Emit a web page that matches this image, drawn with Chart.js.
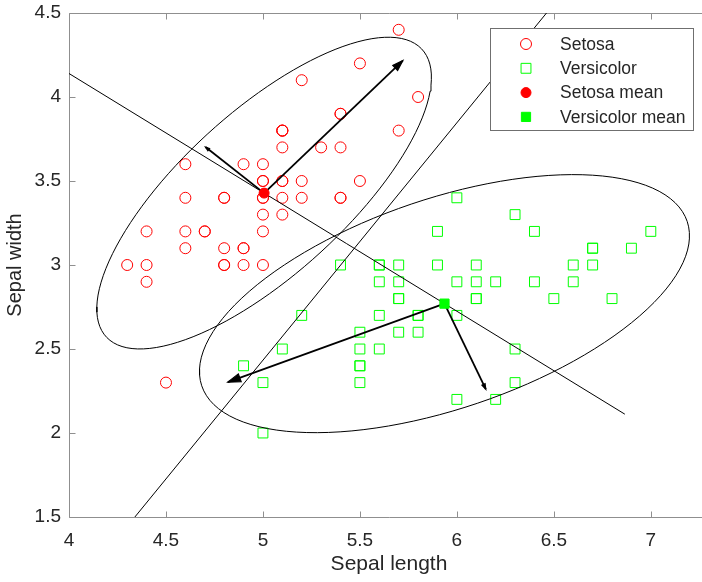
<!DOCTYPE html>
<html>
<head>
<meta charset="utf-8">
<title>Iris sepal measurements</title>
<script src="https://cdn.jsdelivr.net/npm/chart.js@4.4.1/dist/chart.umd.min.js"></script>
<style>
  html, body { margin: 0; padding: 0; background: #fff; overflow: hidden; }
  #wrap { position: relative; width: 702px; height: 582px; overflow: hidden; }
  #chartIris { position: absolute; left: 0; top: 0; width: 709px; height: 582px; }
</style>
</head>
<body>
<!-- the axes box runs a few pixels past the right edge of the page -->
<div id="wrap"><canvas id="chartIris" width="709" height="582"></canvas></div>
<script>
// Fisher iris, sepal length / width (cm)
const setosaLength = [5.1, 4.9, 4.7, 4.6, 5.0, 5.4, 4.6, 5.0, 4.4, 4.9, 5.4, 4.8, 4.8, 4.3, 5.8, 5.7, 5.4, 5.1, 5.7, 5.1,
                      5.4, 5.1, 4.6, 5.1, 4.8, 5.0, 5.0, 5.2, 5.2, 4.7, 4.8, 5.4, 5.2, 5.5, 4.9, 5.0, 5.5, 4.9, 4.4, 5.1,
                      5.0, 4.5, 4.4, 5.0, 5.1, 4.8, 5.1, 4.6, 5.3, 5.0];
const setosaWidth = [3.5, 3.0, 3.2, 3.1, 3.6, 3.9, 3.4, 3.4, 2.9, 3.1, 3.7, 3.4, 3.0, 3.0, 4.0, 4.4, 3.9, 3.5, 3.8, 3.8,
                     3.4, 3.7, 3.6, 3.3, 3.4, 3.0, 3.4, 3.5, 3.4, 3.2, 3.1, 3.4, 4.1, 4.2, 3.1, 3.2, 3.5, 3.6, 3.0, 3.4,
                     3.5, 2.3, 3.2, 3.5, 3.8, 3.0, 3.8, 3.2, 3.7, 3.3];
const versicolorLength = [7.0, 6.4, 6.9, 5.5, 6.5, 5.7, 6.3, 4.9, 6.6, 5.2, 5.0, 5.9, 6.0, 6.1, 5.6, 6.7, 5.6, 5.8, 6.2, 5.6,
                          5.9, 6.1, 6.3, 6.1, 6.4, 6.6, 6.8, 6.7, 6.0, 5.7, 5.5, 5.5, 5.8, 6.0, 5.4, 6.0, 6.7, 6.3, 5.6, 5.5,
                          5.5, 6.1, 5.8, 5.0, 5.6, 5.7, 5.7, 6.2, 5.1, 5.7];
const versicolorWidth = [3.2, 3.2, 3.1, 2.3, 2.8, 2.8, 3.3, 2.4, 2.9, 2.7, 2.0, 3.0, 2.2, 2.9, 2.9, 3.1, 3.0, 2.7, 2.2, 2.5,
                         3.2, 2.8, 2.5, 2.8, 2.9, 3.0, 2.8, 3.0, 2.9, 2.6, 2.4, 2.4, 2.7, 2.7, 3.0, 3.4, 3.1, 2.3, 3.0, 2.5,
                         2.6, 3.0, 2.6, 2.3, 2.7, 3.0, 2.9, 2.9, 2.5, 2.8];

const xTicks = [4, 4.5, 5, 5.5, 6, 6.5, 7];
const yTicks = [1.5, 2, 2.5, 3, 3.5, 4, 4.5];

const CHI2_95 = 5.991;       // chi-square, 2 dof, 95 %
const ARROW_SHRINK = 0.9;    // arrows a bit shorter than the ellipse axes

const RED = '#ff0000';
const GREEN = '#00ff00';
const TEXT = '#262626';
const AXIS = '#8f8f8f';
const FONT = "'Liberation Sans', Arial, Helvetica, sans-serif";

Chart.defaults.font.family = FONT;

// mean, covariance and principal axes of one class
function stats(xs, ys) {
    const n = xs.length;
    const mx = xs.reduce((a, b) => a + b, 0) / n;
    const my = ys.reduce((a, b) => a + b, 0) / n;
    let sxx = 0, syy = 0, sxy = 0;
    for (let i = 0; i < n; i++) {
        sxx += (xs[i] - mx) * (xs[i] - mx);
        syy += (ys[i] - my) * (ys[i] - my);
        sxy += (xs[i] - mx) * (ys[i] - my);
    }
    sxx /= n - 1; syy /= n - 1; sxy /= n - 1;
    const half = (sxx + syy) / 2;
    const root = Math.sqrt(half * half - (sxx * syy - sxy * sxy));
    const l1 = half + root, l2 = half - root;
    let vx = l1 - syy, vy = sxy;
    const len = Math.hypot(vx, vy);
    vx /= len; vy /= len;
    return { mx: mx, my: my, l1: l1, l2: l2, v1: [vx, vy], v2: [-vy, vx] };
}

function toPoints(xs, ys) {
    return xs.map((x, i) => ({ x: x, y: ys[i] }));
}

function ellipsePoints(s, k) {
    const pts = [];
    const a = k * Math.sqrt(s.l1), b = k * Math.sqrt(s.l2);
    for (let i = 0; i <= 120; i++) {
        const t = i / 120 * 2 * Math.PI;
        pts.push({
            x: s.mx + a * Math.cos(t) * s.v1[0] + b * Math.sin(t) * s.v2[0],
            y: s.my + a * Math.cos(t) * s.v1[1] + b * Math.sin(t) * s.v2[1]
        });
    }
    return pts;
}

// two arrows from the mean along the principal axes; sign picks the direction of the major one
function axisArrows(s, sign, k) {
    const m1 = [sign * s.v1[0], sign * s.v1[1]];
    const m2 = [-m1[1], m1[0]];
    const a = k * Math.sqrt(s.l1), b = k * Math.sqrt(s.l2);
    return [
        [{ x: s.mx, y: s.my }, { x: s.mx + a * m1[0], y: s.my + a * m1[1] }],
        [{ x: s.mx, y: s.my }, { x: s.mx + b * m2[0], y: s.my + b * m2[1] }]
    ];
}

const setosa = stats(setosaLength, setosaWidth);
const versicolor = stats(versicolorLength, versicolorWidth);

// line through both means, and its perpendicular through the midpoint
const dx = versicolor.mx - setosa.mx, dy = versicolor.my - setosa.my;
const midX = (setosa.mx + versicolor.mx) / 2, midY = (setosa.my + versicolor.my) / 2;
const meanLine = [{ x: setosa.mx - 2 * dx, y: setosa.my - 2 * dy }, { x: versicolor.mx + dx, y: versicolor.my + dy }];
const splitLine = [{ x: midX + 3 * dy, y: midY - 3 * dx }, { x: midX - 3 * dy, y: midY + 3 * dx }];

const eK = Math.sqrt(CHI2_95);
const arrows = axisArrows(setosa, 1, eK * ARROW_SHRINK).concat(axisArrows(versicolor, -1, eK * ARROW_SHRINK));

function curve(data, width) {
    return { data: data, showLine: true, pointRadius: 0, borderColor: '#000', borderWidth: width, order: 3 };
}

const datasets = [
    { label: 'Setosa', data: toPoints(setosaLength, setosaWidth), pointStyle: 'circle', pointRadius: 5.5,
      borderColor: RED, backgroundColor: 'rgba(0,0,0,0)', borderWidth: 1, order: 5 },
    { label: 'Versicolor', data: toPoints(versicolorLength, versicolorWidth), pointStyle: 'rect', pointRadius: 7,
      borderColor: GREEN, backgroundColor: 'rgba(0,0,0,0)', borderWidth: 1, order: 5 },
    { label: 'Setosa mean', data: [{ x: setosa.mx, y: setosa.my }], pointStyle: 'circle', pointRadius: 5,
      borderColor: RED, backgroundColor: RED, borderWidth: 1, order: 0 },
    { label: 'Versicolor mean', data: [{ x: versicolor.mx, y: versicolor.my }], pointStyle: 'rect', pointRadius: 6.5,
      borderColor: GREEN, backgroundColor: GREEN, borderWidth: 1, order: 0 },
    curve(ellipsePoints(setosa, eK), 1),
    curve(ellipsePoints(versicolor, eK), 1),
    curve(meanLine, 1),
    curve(splitLine, 1)
];
arrows.forEach(a => {
    const ds = curve(a, 1.8);
    ds.arrow = true;
    ds.order = 1;
    datasets.push(ds);
});

// left, top and bottom axis lines with inward tick marks (the right side is off the page)
const axesFrame = {
    id: 'axesFrame',
    beforeDatasetsDraw(chart) {
        const { ctx, chartArea: area, scales } = chart;
        const L = Math.round(area.left) + 0.5, R = Math.round(area.right);
        const T = Math.round(area.top) + 0.5, B = Math.round(area.bottom) + 0.5;
        ctx.save();
        ctx.strokeStyle = AXIS;
        ctx.lineWidth = 1;
        ctx.beginPath();
        ctx.moveTo(R, T); ctx.lineTo(L, T); ctx.lineTo(L, B); ctx.lineTo(R, B);
        xTicks.forEach(v => {
            const px = Math.round(scales.x.getPixelForValue(v)) + 0.5;
            ctx.moveTo(px, B); ctx.lineTo(px, B - 6);
            ctx.moveTo(px, T); ctx.lineTo(px, T + 6);
        });
        yTicks.forEach(v => {
            const py = Math.round(scales.y.getPixelForValue(v)) + 0.5;
            ctx.moveTo(L, py); ctx.lineTo(L + 6, py);
        });
        ctx.stroke();
        ctx.restore();
    }
};

// heads on the principal-axis arrows
const arrowHeads = {
    id: 'arrowHeads',
    afterDatasetsDraw(chart) {
        const { ctx, scales } = chart;
        ctx.save();
        ctx.fillStyle = '#000';
        ctx.strokeStyle = '#000';
        ctx.lineWidth = 1.2;
        chart.data.datasets.forEach(ds => {
            if (!ds.arrow) return;
            const x0 = scales.x.getPixelForValue(ds.data[0].x), y0 = scales.y.getPixelForValue(ds.data[0].y);
            const x1 = scales.x.getPixelForValue(ds.data[1].x), y1 = scales.y.getPixelForValue(ds.data[1].y);
            const len = Math.hypot(x1 - x0, y1 - y0);
            const ux = (x1 - x0) / len, uy = (y1 - y0) / len;
            const h = 0.055 * len, w = 0.33 * h;
            ctx.beginPath();
            ctx.moveTo(x1, y1);
            ctx.lineTo(x1 - h * ux + w * uy, y1 - h * uy - w * ux);
            ctx.lineTo(x1 - h * ux - w * uy, y1 - h * uy + w * ux);
            ctx.closePath();
            ctx.fill();
            ctx.stroke();
        });
        ctx.restore();
    }
};

// boxed legend in the upper right of the plot
const boxLegend = {
    id: 'boxLegend',
    afterDraw(chart) {
        const ctx = chart.ctx;
        const bx = 490.5, by = 28.5, bw = 203, bh = 102;
        ctx.save();
        ctx.fillStyle = '#fff';
        ctx.strokeStyle = '#6f6f6f';
        ctx.lineWidth = 1;
        ctx.fillRect(bx, by, bw, bh);
        ctx.strokeRect(bx, by, bw, bh);
        ctx.font = '17.5px ' + FONT;
        ctx.textBaseline = 'middle';
        chart.data.datasets.slice(0, 4).forEach((ds, i) => {
            const cy = 44 + i * 24.3, cx = 526;
            ctx.beginPath();
            if (ds.pointStyle === 'circle') {
                ctx.arc(cx, cy, ds.pointRadius, 0, 2 * Math.PI);
            } else {
                const s = ds.pointRadius * Math.SQRT1_2;
                ctx.rect(cx - s, cy - s, 2 * s, 2 * s);
            }
            ctx.fillStyle = ds.backgroundColor;
            ctx.fill();
            ctx.strokeStyle = ds.borderColor;
            ctx.lineWidth = ds.borderWidth;
            ctx.stroke();
            ctx.fillStyle = TEXT;
            ctx.fillText(ds.label, 560, cy + 1);
        });
        ctx.restore();
    }
};

function noEdgePadding(s) {
    s.paddingTop = 0; s.paddingBottom = 0; s.paddingLeft = 0; s.paddingRight = 0;
}

new Chart(document.getElementById('chartIris'), {
    type: 'scatter',
    data: { datasets: datasets },
    options: {
        responsive: false,
        animation: false,
        events: [],
        layout: { autoPadding: false, padding: { top: 13, right: 0, left: 0, bottom: 0 } },
        plugins: { legend: { display: false }, tooltip: { enabled: false } },
        scales: {
            x: {
                type: 'linear', min: 4, max: 7.3,
                afterBuildTicks: s => { s.ticks = xTicks.map(v => ({ value: v })); },
                afterFit: s => { s.height = 65; noEdgePadding(s); },
                grid: { display: false, drawTicks: false },
                border: { display: false },
                ticks: { color: TEXT, font: { size: 19 }, padding: 12, maxRotation: 0, autoSkip: false,
                         callback: v => String(v) },
                title: { display: true, text: 'Sepal length', color: TEXT, font: { size: 21 },
                         padding: { top: 0, bottom: 5 } }
            },
            y: {
                type: 'linear', min: 1.5, max: 4.5,
                afterBuildTicks: s => { s.ticks = yTicks.map(v => ({ value: v })); },
                afterFit: s => { s.width = 69; noEdgePadding(s); },
                grid: { display: false, drawTicks: false },
                border: { display: false },
                ticks: { color: TEXT, font: { size: 19 }, padding: 8, autoSkip: false,
                         callback: v => String(v) },
                title: { display: true, text: 'Sepal width', color: TEXT, font: { size: 20 },
                         padding: { top: 3, bottom: 0 } }
            }
        }
    },
    plugins: [axesFrame, arrowHeads, boxLegend]
});
</script>
</body>
</html>
